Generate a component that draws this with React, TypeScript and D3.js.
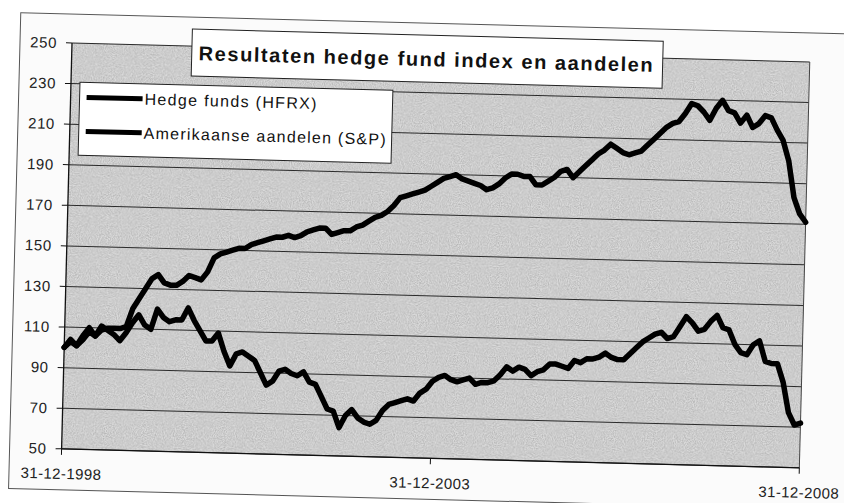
import React, { useEffect, useRef } from 'react';
import * as d3 from 'd3';

// monthly index values, 31-12-1998 = 100, up to 31-12-2008
const hedgeFunds = [
  100, 103, 101, 104, 108, 106, 109, 110, 110, 110, 111, 120, 125,
  130, 135, 137, 133, 132, 132, 134, 137, 136, 135, 139, 146,
  148, 149, 150, 151, 151, 153, 154, 155, 156, 157, 157, 158,
  157, 158, 160, 161, 162, 162, 159, 160, 161, 161, 163, 164,
  166, 168, 169, 171, 174, 178, 179, 180, 181, 182, 184, 186,
  188, 189, 190, 188, 187, 186, 185, 183, 184, 186, 189, 191,
  191, 190, 190, 186, 186, 188, 190, 193, 194, 190, 193, 196,
  199, 202, 204, 207, 205, 203, 202, 203, 204, 207, 210, 213,
  216, 218, 219, 223, 228, 227, 224, 220, 226, 230, 225, 224,
  219, 223, 217, 219, 223, 222, 216, 211, 201, 183, 175, 171,
];

const sp500 = [
  100, 104, 101, 106, 110, 106, 111, 109, 107, 104, 108, 113, 117,
  112, 110, 120, 116, 114, 115, 115, 121, 115, 110, 105, 105,
  109, 100, 93, 99, 100, 98, 96, 90, 84, 86, 91, 92,
  90, 89, 91, 86, 85, 79, 73, 72, 64, 70, 73, 69,
  67, 66, 68, 73, 76, 77, 78, 79, 78, 82, 84, 88,
  90, 91, 89, 88, 89, 90, 87, 88, 88, 89, 92, 96,
  94, 96, 95, 92, 94, 95, 98, 98, 97, 96, 100, 99,
  101, 101, 102, 104, 102, 101, 101, 104, 107, 110, 112, 114,
  115, 112, 113, 118, 123, 120, 116, 117, 121, 124, 118, 117,
  110, 106, 105, 110, 112, 102, 101, 101, 92, 77, 71, 72,
];

const seriesNames = ['Hedge funds (HFRX)', 'Amerikaanse aandelen (S&P)'];
const yTicks = [50, 70, 90, 110, 130, 150, 170, 190, 210, 230, 250];
const xTickLabels = ['31-12-1998', '31-12-2003', '31-12-2008'];
const xTickIndex = [0, 60, 120];
const title = 'Resultaten hedge fund index en aandelen';

const App: React.FC = () => {
  const svgRef = useRef<SVGSVGElement>(null);

  useEffect(() => {
    if (!svgRef.current) return;
    const width = 844;
    const height = 503;
    const plot = { left: 72, top: 43, right: 810, bottom: 449 };
    const font = '"Liberation Sans", Arial, sans-serif';

    const svg = d3.select(svgRef.current);
    svg.selectAll('*').remove();

    svg.append('rect').attr('width', width).attr('height', height).attr('fill', '#ffffff');

    // scanned page is slightly skewed
    const root = svg.append('g')
      .attr('transform', `rotate(1.47, ${plot.left}, ${plot.top})`);

    const defs = svg.append('defs');
    const filter = defs.append('filter').attr('id', 'grain')
      .attr('x', 0).attr('y', 0).attr('width', '100%').attr('height', '100%');
    filter.append('feTurbulence')
      .attr('type', 'fractalNoise')
      .attr('baseFrequency', 0.9)
      .attr('numOctaves', 2)
      .attr('seed', 3);
    filter.append('feColorMatrix')
      .attr('type', 'matrix')
      .attr('values', '0 0 0 0 0  0 0 0 0 0  0 0 0 0 0  0 0 0 -1.6 1.1');

    // outer chart area
    root.append('rect')
      .attr('x', 20).attr('y', 14)
      .attr('width', 860).attr('height', 476)
      .attr('fill', '#fbfbfb')
      .attr('stroke', '#555')
      .attr('stroke-width', 1);

    const x = d3.scaleLinear().domain([0, hedgeFunds.length - 1]).range([plot.left, plot.right]);
    const y = d3.scaleLinear().domain([50, 250]).range([plot.bottom, plot.top]);

    // plot area
    root.append('rect')
      .attr('x', plot.left).attr('y', plot.top)
      .attr('width', plot.right - plot.left).attr('height', plot.bottom - plot.top)
      .attr('fill', '#d9d9d9');
    root.append('rect')
      .attr('x', plot.left).attr('y', plot.top)
      .attr('width', plot.right - plot.left).attr('height', plot.bottom - plot.top)
      .attr('fill', '#000')
      .attr('opacity', 0.2)
      .attr('filter', 'url(#grain)');

    // gridlines
    root.append('g')
      .selectAll('line')
      .data(yTicks)
      .enter()
      .append('line')
      .attr('x1', plot.left).attr('x2', plot.right)
      .attr('y1', d => y(d)).attr('y2', d => y(d))
      .attr('stroke', '#2a2a2a')
      .attr('stroke-width', 1);

    root.append('line')
      .attr('x1', plot.right).attr('x2', plot.right)
      .attr('y1', plot.top).attr('y2', plot.bottom)
      .attr('stroke', '#444');

    // y axis
    const yAxis = root.append('g').attr('transform', `translate(${plot.left},0)`);
    yAxis.append('line')
      .attr('y1', plot.top).attr('y2', plot.bottom)
      .attr('stroke', '#111').attr('stroke-width', 1.3);
    yAxis.selectAll('.tick')
      .data(yTicks)
      .enter()
      .append('line')
      .attr('x1', -6).attr('x2', 0)
      .attr('y1', d => y(d)).attr('y2', d => y(d))
      .attr('stroke', '#111');
    yAxis.selectAll('text')
      .data(yTicks)
      .enter()
      .append('text')
      .attr('x', -15)
      .attr('y', d => y(d))
      .attr('dy', '0.35em')
      .attr('text-anchor', 'end')
      .attr('font-family', font)
      .attr('font-size', 15)
      .attr('letter-spacing', 0.6)
      .attr('fill', '#222')
      .text(d => d);

    // x axis
    const xAxis = root.append('g').attr('transform', `translate(0,${plot.bottom})`);
    xAxis.append('line')
      .attr('x1', plot.left).attr('x2', plot.right)
      .attr('stroke', '#111').attr('stroke-width', 1.3);
    xAxis.selectAll('.tick')
      .data(xTickIndex)
      .enter()
      .append('line')
      .attr('x1', d => x(d)).attr('x2', d => x(d))
      .attr('y1', 0).attr('y2', 6)
      .attr('stroke', '#111');
    xAxis.selectAll('text')
      .data(xTickIndex)
      .enter()
      .append('text')
      .attr('x', d => x(d))
      .attr('y', 30)
      .attr('text-anchor', 'middle')
      .attr('font-family', font)
      .attr('font-size', 15)
      .attr('letter-spacing', 0.4)
      .attr('fill', '#222')
      .text((d, i) => xTickLabels[i]);

    // series
    const line = d3.line<number>()
      .x((d, i) => x(i))
      .y(d => y(d));

    [hedgeFunds, sp500].forEach(series => {
      root.append('path')
        .datum(series)
        .attr('d', line)
        .attr('fill', 'none')
        .attr('stroke', '#000')
        .attr('stroke-width', 5.5)
        .attr('stroke-linejoin', 'round')
        .attr('stroke-linecap', 'round');
    });

    // title box
    root.append('rect')
      .attr('x', 192).attr('y', 26)
      .attr('width', 471).attr('height', 47)
      .attr('fill', '#fff')
      .attr('stroke', '#222');
    root.append('text')
      .attr('x', 199)
      .attr('y', 57)
      .attr('font-family', font)
      .attr('font-weight', 'bold')
      .attr('font-size', 20)
      .attr('textLength', 454)
      .attr('lengthAdjust', 'spacing')
      .attr('fill', '#111')
      .text(title);

    // legend
    const legend = root.append('g');
    legend.append('rect')
      .attr('x', 81).attr('y', 82)
      .attr('width', 313).attr('height', 73)
      .attr('fill', '#fff')
      .attr('stroke', '#222');
    const widths = [172, 242];
    const item = legend.selectAll('.item')
      .data(seriesNames)
      .enter()
      .append('g')
      .attr('transform', (d, i) => `translate(0, ${97 + i * 34})`);
    item.append('line')
      .attr('x1', 88).attr('x2', 144)
      .attr('stroke', '#000')
      .attr('stroke-width', 5);
    item.append('text')
      .attr('x', 146)
      .attr('dy', '0.36em')
      .attr('font-family', font)
      .attr('font-size', 16)
      .attr('textLength', (d, i) => widths[i])
      .attr('lengthAdjust', 'spacing')
      .attr('fill', '#111')
      .text(d => d);
  }, []);

  return (
    <svg
      ref={svgRef}
      width={844}
      height={503}
      style={{ position: 'absolute', left: 0, top: 0 }}
    />
  );
};

export default App;
